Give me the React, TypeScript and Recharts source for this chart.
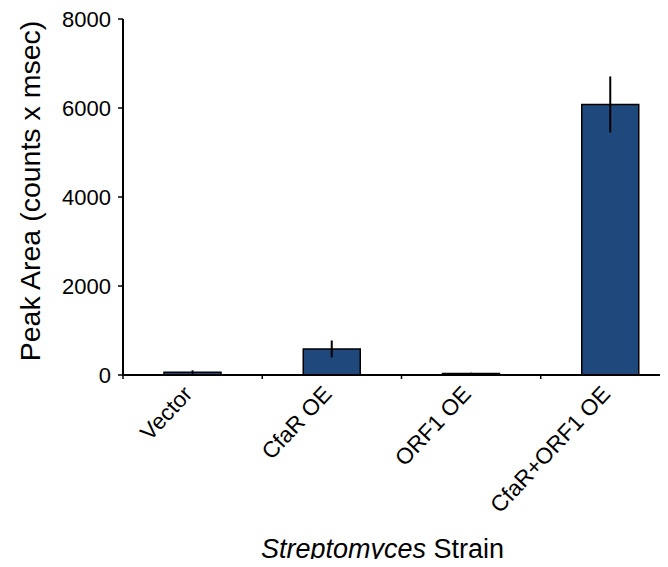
import React from "react";
import { ComposedChart, Bar, ErrorBar, XAxis, YAxis, Label } from "recharts";

const strains = ["Vector", "CfaR OE", "ORF1 OE", "CfaR+ORF1 OE"];
const peakArea = [60, 585, 35, 6080];
const peakErr = [45, 190, 15, 630];
const yTicks = [0, 2000, 4000, 6000, 8000];

const data = strains.map((s, i) => ({ strain: s, area: peakArea[i], err: peakErr[i] }));

const FONT = "'Liberation Sans', Arial, sans-serif";
const W = 700;
const H = 567;
const LEFT = 123;
const RIGHT = 20;
const band = (W - LEFT - RIGHT) / strains.length;

function StrainTick(props: any) {
  const { x, y, payload } = props;
  const ax = x + 1;
  const ay = y + 12;
  return (
    <g>
      <line x1={x - band / 2} x2={x - band / 2} y1={y - 8} y2={y - 4} stroke="#000" strokeWidth={1.5} />
      <text
        x={ax}
        y={ay}
        transform={`rotate(-47, ${ax}, ${ay})`}
        textAnchor="end"
        fontSize={22.5}
        fontFamily={FONT}
        fill="#000"
      >
        {payload.value}
      </text>
    </g>
  );
}

function XTitle(props: any) {
  const vb = props.viewBox || {};
  const cx = vb.x + vb.width / 2 - 19;
  return (
    <text x={cx} y={558} textAnchor="middle" fontSize={27} fontFamily={FONT} fill="#000">
      <tspan fontStyle="italic">Streptomyces</tspan>
      <tspan> Strain</tspan>
    </text>
  );
}

export default function App() {
  return (
    <div style={{ margin: -8, width: 668, height: 567, overflow: "hidden", background: "#fff" }}>
      <ComposedChart width={W} height={H} data={data} margin={{ top: 19, right: RIGHT, left: 0, bottom: 0 }}>
        <XAxis
          dataKey="strain"
          height={192}
          interval={0}
          tickLine={false}
          axisLine={{ stroke: "#000", strokeWidth: 2 }}
          tick={<StrainTick />}
        >
          <Label content={<XTitle />} />
        </XAxis>
        <YAxis
          width={LEFT}
          domain={[0, 8000]}
          ticks={yTicks}
          tickSize={5}
          tickMargin={7}
          axisLine={{ stroke: "#000", strokeWidth: 2 }}
          tickLine={{ stroke: "#000", strokeWidth: 1.5 }}
          tick={{ fontSize: 22, fill: "#000", fontFamily: FONT }}
        >
          <Label
            value="Peak Area (counts x msec)"
            angle={-90}
            position="center"
            dx={-32}
            dy={-6}
            style={{ fontSize: 28.5, fill: "#000", fontFamily: FONT, textAnchor: "middle" }}
          />
        </YAxis>
        <Bar dataKey="area" fill="#1f497d" stroke="#000" strokeWidth={1.5} barSize={57} isAnimationActive={false}>
          <ErrorBar dataKey="err" width={0} stroke="#000" strokeWidth={2} direction="y" />
        </Bar>
      </ComposedChart>
    </div>
  );
}
